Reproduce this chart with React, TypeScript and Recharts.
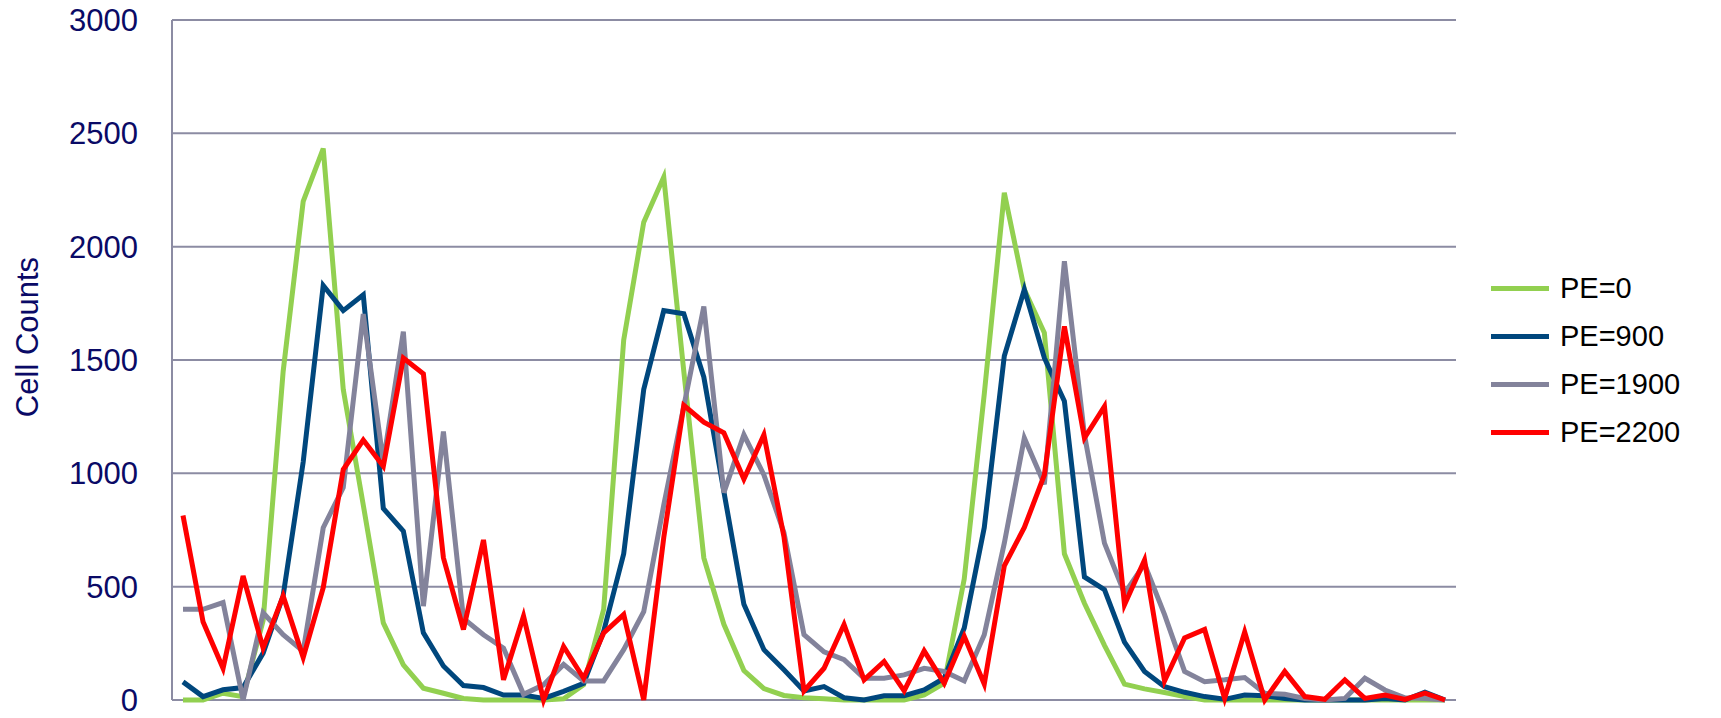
import { LineChart, Line, XAxis, YAxis, CartesianGrid } from 'recharts'

const pe0 = [0, 0, 30, 15, 350, 1450, 2200, 2433, 1370, 860, 340, 155, 52, 30, 7, 0, 0, 0, 0, 5, 67, 400, 1588, 2108, 2307, 1450, 627, 334, 130, 50, 20, 10, 5, 0, 0, 0, 0, 22, 74, 534, 1350, 2238, 1811, 1620, 645, 427, 241, 70, 49, 33, 15, 0, 0, 0, 0, 0, 0, 0, 0, 0, 0, 0, 0, 0]
const pe900 = [80, 15, 45, 55, 207, 460, 1050, 1829, 1718, 1788, 845, 745, 296, 150, 64, 55, 22, 22, 7, 38, 74, 303, 645, 1370, 1718, 1704, 1425, 920, 422, 222, 133, 40, 59, 10, 0, 19, 19, 44, 96, 318, 761, 1518, 1811, 1509, 1318, 543, 487, 255, 126, 59, 34, 15, 3, 22, 19, 7, 0, 0, 0, 0, 7, 0, 34, 0]
const pe1900 = [400, 400, 430, 0, 385, 288, 215, 760, 937, 1703, 1050, 1625, 414, 1184, 360, 288, 229, 25, 67, 157, 84, 84, 222, 390, 860, 1295, 1736, 915, 1170, 993, 738, 288, 212, 178, 96, 96, 111, 140, 126, 84, 288, 692, 1156, 952, 1936, 1170, 692, 470, 600, 377, 126, 81, 89, 99, 30, 25, 7, 0, 7, 96, 44, 10, 7, 0]
const pe2200 = [814, 345, 140, 547, 229, 459, 188, 496, 1017, 1147, 1031, 1509, 1439, 627, 311, 706, 89, 370, 0, 236, 96, 296, 377, 0, 717, 1300, 1226, 1179, 975, 1170, 720, 40, 140, 333, 89, 170, 40, 217, 74, 281, 70, 592, 761, 993, 1648, 1156, 1295, 420, 617, 84, 274, 311, 7, 300, 0, 126, 15, 3, 89, 7, 22, 3, 30, 0]
const yTicks = [0, 500, 1000, 1500, 2000, 2500, 3000]

const series = [
  { key: 'pe0', name: 'PE=0', color: '#92D050' },
  { key: 'pe900', name: 'PE=900', color: '#00477D' },
  { key: 'pe1900', name: 'PE=1900', color: '#83839B' },
  { key: 'pe2200', name: 'PE=2200', color: '#FF0000' },
]

const data = pe0.map((v, i) => ({ i, pe0: v, pe900: pe900[i], pe1900: pe1900[i], pe2200: pe2200[i] }))

const font = 'Liberation Sans, Arial, sans-serif'
const navy = '#0A0A66'

export default function App() {
  return (
    <div style={{ position: 'absolute', left: 0, top: 0, width: 1721, height: 718, background: '#fff' }}>
      <LineChart width={1721} height={718} data={data} margin={{ top: 20, right: 265, bottom: 18, left: 0 }}>
        <CartesianGrid vertical={false} stroke="#8C8CA3" strokeWidth={2} />
        <XAxis dataKey="i" tick={false} tickLine={false} height={0} padding={{ left: 11, right: 11 }} axisLine={{ stroke: '#8C8CA3', strokeWidth: 2 }} />
        <YAxis
          domain={[0, 3000]}
          ticks={yTicks}
          interval={0}
          width={172}
          tickLine={false}
          tickSize={0}
          tickMargin={34}
          axisLine={{ stroke: '#8C8CA3', strokeWidth: 2 }}
          tick={{ fill: navy, fontSize: 31, fontFamily: font }}
          label={{
            content: () => (
              <text x={38} y={337} transform="rotate(-90 38 337)" textAnchor="middle" fill={navy} fontSize={31} fontFamily={font}>
                Cell Counts
              </text>
            ),
          }}
        />
        {series.map((s) => (
          <Line key={s.key} dataKey={s.key} name={s.name} stroke={s.color} strokeWidth={5} dot={false} isAnimationActive={false} />
        ))}
      </LineChart>
      <div style={{ position: 'absolute', left: 1491, top: 264, fontFamily: font }}>
        {series.map((s) => (
          <div key={s.key} style={{ display: 'flex', alignItems: 'center', height: 48 }}>
            <span style={{ width: 58, height: 5, background: s.color, display: 'inline-block', marginRight: 11 }} />
            <span style={{ fontSize: 29, color: '#000' }}>{s.name}</span>
          </div>
        ))}
      </div>
    </div>
  )
}
